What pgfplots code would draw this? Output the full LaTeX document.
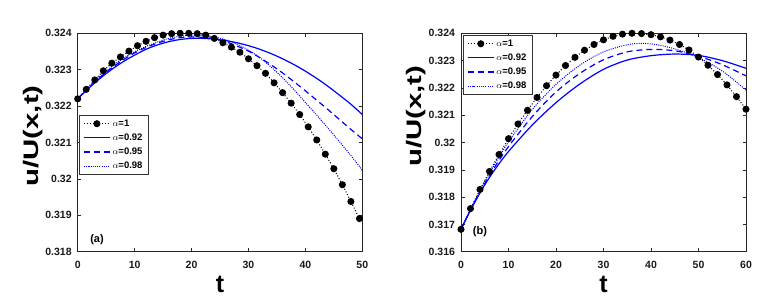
\documentclass[border=0pt]{standalone}
\usepackage{fontspec}
\setmainfont{Liberation Sans}
\usepackage{graphicx}
\usepackage{pgfplots}
\pgfplotsset{compat=1.18}
\definecolor{mblue}{RGB}{0,0,255}
\begin{document}
\begin{tikzpicture}
\pgfplotsset{
 myaxis/.style={
  scale only axis, width=284.6pt, height=218.4pt,
  axis line style={line width=0.6pt, color=black!85},
  tick align=inside, major tick length=3.5pt,
  tick style={line width=0.5pt, color=black!85},
  xtick pos=both, ytick pos=both,
  ticklabel style={font=\fontsize{10.5}{12}\selectfont\bfseries, text=black!90},
  /pgf/number format/assume math mode=true,
  scaled y ticks=false, scaled x ticks=false,
  yticklabel style={/pgf/number format/fixed, /pgf/number format/precision=3, xshift=-2.5pt},
  xticklabel style={anchor=base, yshift=-17pt},
  xlabel={t}, ylabel={\scalebox{1.4}[1]{u/U(x,t)}},
  xlabel style={font=\fontsize{25}{28}\selectfont\bfseries, at={(axis description cs:0.5,-0.189)}, anchor=base},
  ylabel style={font=\fontsize{21}{24}\selectfont\bfseries, anchor=center},
  legend style={font=\fontsize{9.5}{10}\selectfont\bfseries, draw=black!80, fill=white,
    inner xsep=4pt, inner ysep=2.5pt, row sep=2pt, cells={anchor=west},
    legend image code/.code={\draw[mark repeat=2,mark phase=2,##1] plot coordinates {(0pt,0pt) (13pt,0pt) (26pt,0pt)};}},
  legend cell align=left,
 },
 mk/.style={black, dotted, line width=1pt, mark=*, mark size=3pt, mark options={solid, fill=black}},
 s92/.style={mblue, solid, line width=1.2pt, smooth},
 s95/.style={mblue, dash pattern=on 6pt off 4pt, line width=1.2pt, smooth},
 s98/.style={mblue, dash pattern=on 1pt off 1.2pt, line width=1pt, smooth},
}
% ---------------- (a) ----------------
\begin{axis}[myaxis, at={(77.7pt,49.3pt)}, anchor=south west,
  xmin=0, xmax=50, ymin=0.318, ymax=0.324,
  xtick={0,10,20,30,40,50},
  ytick={0.318,0.319,0.320,0.321,0.322,0.323,0.324},
  ylabel style={at={(axis description cs:-0.157,0.53)}},
  legend style={at={(axis description cs:0.005,0.626)}, anchor=north west}]
\addplot[mk] coordinates {
(0,0.32220) (1.5,0.32246) (3,0.32272) (4.5,0.32297) (6,0.32318) (7.5,0.32335)
(9,0.32351) (10.5,0.32366) (12,0.32378) (13.5,0.32388) (15,0.32395) (16.5,0.32399)
(18,0.32400) (19.5,0.32400) (21,0.32399) (22.5,0.32395) (24,0.32386) (25.5,0.32374)
(27,0.32362) (28.5,0.32348) (30,0.32330) (31.5,0.32311) (33,0.32290) (34.5,0.32264)
(36,0.32237) (37.5,0.32208) (39,0.32177) (40.5,0.32143) (42,0.32107) (43.5,0.32068)
(45,0.32028) (46.5,0.31984) (48,0.31938) (49.5,0.31891)};
\addlegendentry{$\alpha$=1}
\addplot[s92] coordinates {
(0,0.32220) (2,0.32250) (4,0.32277) (6,0.32301) (8,0.32322) (10,0.32340)
(12,0.32356) (14,0.32368) (16,0.32377) (18,0.32383) (20,0.32386) (22,0.32386)
(24,0.32384) (26,0.32380) (28,0.32374) (30,0.32366) (32,0.32356) (34,0.32344)
(36,0.32330) (38,0.32314) (40,0.32296) (42,0.32276) (44,0.32254) (46,0.32230)
(48,0.32205) (50,0.32177)};
\addlegendentry{$\alpha$=0.92}
\addplot[s95] coordinates {
(0,0.32220) (2,0.32252) (4,0.32280) (6,0.32305) (8,0.32327) (10,0.32346)
(12,0.32361) (14,0.32373) (16,0.32382) (18,0.32388) (20,0.32390) (22,0.32389)
(24,0.32385) (26,0.32377) (28,0.32365) (30,0.32351) (32,0.32333) (34,0.32313)
(36,0.32291) (38,0.32267) (40,0.32242) (42,0.32216) (44,0.32190) (46,0.32163)
(48,0.32136) (50,0.32110)};
\addlegendentry{$\alpha$=0.95}
\addplot[s98] coordinates {
(0,0.32220) (2,0.32254) (4,0.32283) (6,0.32309) (8,0.32331) (10,0.32349)
(12,0.32364) (14,0.32376) (16,0.32386) (18,0.32392) (20,0.32395) (22,0.32394)
(24,0.32390) (26,0.32382) (28,0.32370) (30,0.32354) (32,0.32333) (34,0.32307)
(36,0.32278) (38,0.32245) (40,0.32210) (42,0.32175) (44,0.32139) (46,0.32102)
(48,0.32064) (50,0.32024)};
\addlegendentry{$\alpha$=0.98}
\node[font=\fontsize{11}{12}\selectfont\bfseries] at (axis cs:3.4,0.31832) {(a)};
\end{axis}
% ---------------- (b) ----------------
\begin{axis}[myaxis, at={(461pt,49.3pt)}, anchor=south west, width=285pt,
  xmin=0, xmax=60, ymin=0.316, ymax=0.324,
  xtick={0,10,20,30,40,50,60},
  ytick={0.316,0.317,0.318,0.319,0.320,0.321,0.322,0.323,0.324},
  ylabel style={at={(axis description cs:-0.157,0.62)}},
  legend style={at={(axis description cs:0.007,0.992)}, anchor=north west}]
\addplot[mk] coordinates {
(0,0.31682) (2,0.31758) (4,0.31828) (6,0.31894) (8,0.31956) (10,0.32014)
(12,0.32068) (14,0.32118) (16,0.32165) (18,0.32208) (20,0.32247) (22,0.32282)
(24,0.32312) (26,0.32338) (28,0.32359) (30,0.32376) (32,0.32389) (34,0.32397)
(36,0.32400) (38,0.32399) (40,0.32395) (42,0.32387) (44,0.32375) (46,0.32359)
(48,0.32339) (50,0.32313) (52,0.32283) (54,0.32249) (56,0.32211) (58,0.32168)
(60,0.32122)};
\addlegendentry{$\alpha$=1}
\addplot[s92] coordinates {
(0,0.31682) (2.5,0.31768) (5,0.31845) (7.5,0.31910) (10,0.31967) (15,0.32064)
(20,0.32146) (25,0.32214) (30,0.32268) (35,0.32302) (40,0.32318) (45,0.32324)
(50,0.32319) (55,0.32300) (60,0.32272)};
\addlegendentry{$\alpha$=0.92}
\addplot[s95] coordinates {
(0,0.31682) (2.5,0.31770) (5,0.31850) (7.5,0.31921) (10,0.31985) (15,0.32095)
(20,0.32185) (25,0.32253) (30,0.32303) (35,0.32332) (40,0.32341) (45,0.32336)
(50,0.32316) (55,0.32285) (60,0.32244)};
\addlegendentry{$\alpha$=0.95}
\addplot[s98] coordinates {
(0,0.31682) (2.5,0.31772) (5,0.31856) (7.5,0.31932) (10,0.32002) (15,0.32121)
(20,0.32213) (25,0.32283) (30,0.32332) (35,0.32358) (38,0.32363) (41,0.32359)
(45,0.32343) (50,0.32311) (55,0.32262) (60,0.32192)};
\addlegendentry{$\alpha$=0.98}
\node[font=\fontsize{11}{12}\selectfont\bfseries] at (axis cs:4.0,0.31672) {(b)};
\end{axis}
\pgfresetboundingbox
\path[use as bounding box] (0pt,0pt) rectangle (774pt,301pt);
\end{tikzpicture}
\end{document}
